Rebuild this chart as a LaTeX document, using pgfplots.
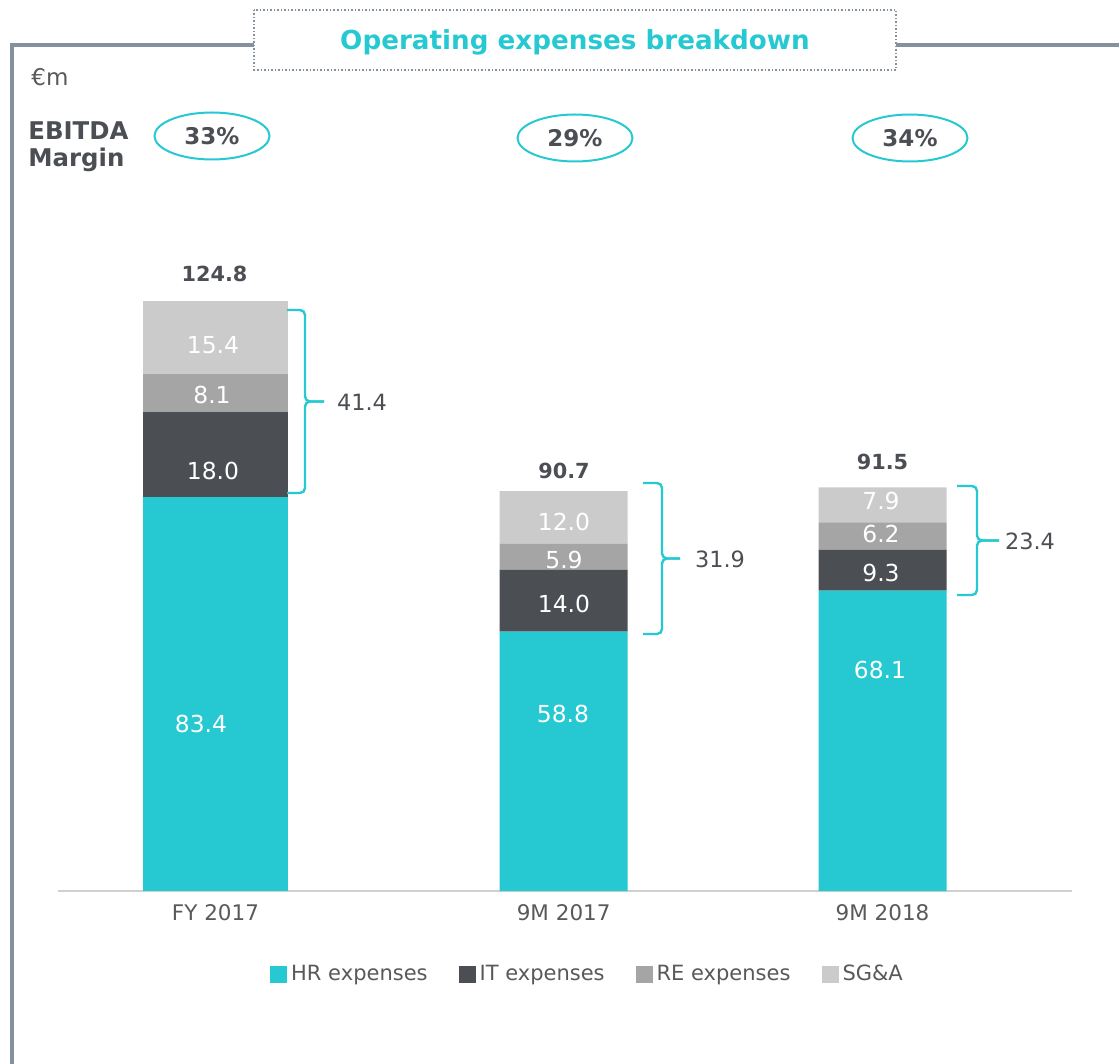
\documentclass[border=0pt]{standalone}
\usepackage{pgfplots}
\usepackage{pgfplotstable}
\pgfplotsset{compat=1.18}
\usepackage{fontspec}
\setmainfont{DejaVu Sans}

\definecolor{hr}{HTML}{26C9D1}
\definecolor{it}{HTML}{4B4E53}
\definecolor{re}{HTML}{A5A5A5}
\definecolor{sga}{HTML}{CBCBCB}
\definecolor{framegray}{HTML}{8691A0}
\definecolor{axisgray}{HTML}{D0D0D0}
\definecolor{txtdark}{HTML}{4B4F54}
\definecolor{txtgray}{HTML}{595959}

% FY 2017 is drawn on its own scale in the original slide
\pgfplotstableread{
x     hr   it   re  sga
215.5 83.4 18.0 8.1 15.4
}\fytable
\pgfplotstableread{
x     hr   it   re  sga
563.7 58.8 14.0 5.9 12.0
882.5 68.1 9.3  6.2 7.9
}\ninemtable

% 1 px of the slide = 0.5pt; axis origin at px (58,891)
\pgfplotsset{
  common/.style={
    at={(29pt,-445.5pt)}, anchor=south west,
    scale only axis, width=507pt, height=320.5pt,
    xmin=58, xmax=1072, ymin=0,
    ybar stacked,
  },
}

% bracket: #1 = x of ends, #2 = x of spine, #3 = x of tip, #4/#5 = y top/bottom
\newcommand\opexbrace[5]{%
  \draw[hr, line width=1.2pt, rounded corners=2.5pt]
    (#1,#4) -- (#2,#4) -- (#2,{(#4+#5)/2}) -- (#3,{(#4+#5)/2});
  \draw[hr, line width=1.2pt, rounded corners=2.5pt]
    (#1,#5) -- (#2,#5) -- (#2,{(#4+#5)/2}) -- (#3,{(#4+#5)/2});
}

\begin{document}
\begin{tikzpicture}
\path[use as bounding box] (0pt,0pt) rectangle (559.5pt,-532pt);

\begin{axis}[common,
  ymax=135.7, bar width=145,
  axis x line*=bottom, axis y line=none,
  x axis line style={color=axisgray, line width=1pt},
  xtick={215.5,563.7,882.5},
  xticklabels={FY 2017,{\raisebox{-1pt}{9M 2017}},9M 2018},
  major tick length=0pt, ytick=\empty,
  xticklabel style={font=\fontsize{10.75}{12}\selectfont, text=txtgray, yshift=-3pt},
  legend columns=4,
  legend style={draw=none, at={(0.5232,-0.1295)}, anchor=center,
    font=\fontsize{10.5}{12}\selectfont, text=txtgray,
    /tikz/every even column/.append style={column sep=13.5pt}},
  legend image code/.code={\fill[#1] (0pt,-4.25pt) rectangle (8.5pt,4.25pt);},
]
\addplot[fill=hr, draw=none] table[x=x,y=hr]{\fytable};
\addlegendentry{HR expenses}
\addplot[fill=it, draw=none] table[x=x,y=it]{\fytable};
\addlegendentry{IT expenses}
\addplot[fill=re, draw=none] table[x=x,y=re]{\fytable};
\addlegendentry{RE expenses}
\addplot[fill=sga, draw=none] table[x=x,y=sga]{\fytable};
\addlegendentry{SG\&A}
\end{axis}

\begin{axis}[common, hide axis, ymax=145.35, bar width=128]
\addplot[fill=hr, draw=none] table[x=x,y=hr]{\ninemtable};
\addplot[fill=it, draw=none] table[x=x,y=it]{\ninemtable};
\addplot[fill=re, draw=none] table[x=x,y=re]{\ninemtable};
\addplot[fill=sga, draw=none] table[x=x,y=sga]{\ninemtable};
\end{axis}

\begin{scope}[x=0.5pt,y=-0.5pt]
% frame and title
\draw[framegray, line width=2pt, line join=miter] (12,1064) -- (12,45) -- (254,45);
\draw[framegray, line width=2pt] (896,45) -- (1119,45);
\draw[framegray, densely dotted, line width=0.75pt] (254,10) rectangle (896,70);
\node[text=hr, font=\bfseries\fontsize{13.1}{15}\selectfont] at (575,42) {Operating expenses breakdown};

\node[anchor=base west, inner sep=0pt, text=txtgray, font=\fontsize{11.5}{13}\selectfont] at (31,86) {€m};
\node[anchor=base west, inner sep=0pt, text=txtdark, font=\bfseries\fontsize{12.2}{14}\selectfont] at (28,140) {EBITDA};
\node[anchor=base west, inner sep=0pt, text=txtdark, font=\bfseries\fontsize{12.2}{14}\selectfont] at (28,167) {Margin};

% EBITDA margin ellipses
\foreach \cx/\cy/\t in {212/136/33\%, 575/138/29\%, 910/138/34\%}{
  \draw[hr, line width=1pt] (\cx,\cy) ellipse [x radius=57.5, y radius=23.5];
  \node[text=txtdark, font=\bfseries\fontsize{11.5}{13}\selectfont] at (\cx,\cy) {\t};
}

% totals
\begin{scope}[every node/.style={text=txtdark, font=\bfseries\fontsize{10.4}{12}\selectfont}]
\node at (214.5,274) {124.8};
\node at (564,471) {90.7};
\node at (882.5,462) {91.5};
\end{scope}

% segment labels
\begin{scope}[every node/.style={text=white, font=\fontsize{11.7}{13}\selectfont}]
\node at (213,345) {15.4};
\node at (212,395) {8.1};
\node at (213,470.5) {18.0};
\node at (201,724) {83.4};
\node at (564,522) {12.0};
\node at (564,559.5) {5.9};
\node at (564,604) {14.0};
\node at (563,714) {58.8};
\node at (881,501) {7.9};
\node at (881,534) {6.2};
\node at (881,573) {9.3};
\node at (880,670) {68.1};
\end{scope}

% brackets with non-HR totals
\opexbrace{287}{305}{324}{310}{493}
\opexbrace{643}{662}{680}{483}{634}
\opexbrace{957}{977}{999}{486}{595}
\begin{scope}[every node/.style={text=txtdark, font=\fontsize{11.2}{13}\selectfont}]
\node at (362,402) {41.4};
\node at (720,559) {31.9};
\node at (1030,541) {23.4};
\end{scope}
\end{scope}
\end{tikzpicture}
\end{document}
